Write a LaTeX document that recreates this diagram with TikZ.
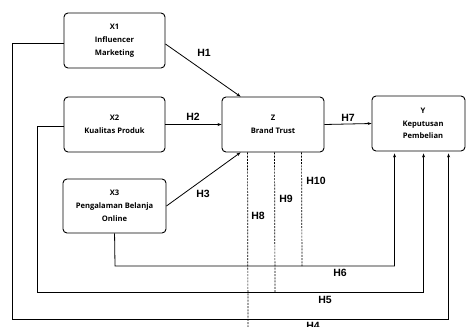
\documentclass[tikz,border=0pt]{standalone}
\usepackage{fontspec}
\setmainfont{Open Sans}
\newfontfamily\labfont{Liberation Sans}
\usetikzlibrary{arrows.meta,calc}
\begin{document}
\begin{tikzpicture}[x=1pt,y=-1pt,
  boxtext/.style={font=\bfseries\fontsize{7.6}{12.8}\selectfont, align=center, inner sep=0pt},
  box/.style={draw, rounded corners=4pt, line width=0.9pt, boxtext},
  conn/.style={line width=0.8pt},
  arr/.style={-{Stealth[length=4pt,width=3pt]}},
  hyp/.style={font=\labfont\bfseries\fontsize{10.5}{12}\selectfont, inner sep=0pt},
  dsh/.style={line width=0.7pt, dash pattern=on 2pt off 1.2pt}]
\useasboundingbox (0,0) rectangle (467,327);
% boxes
\node[box, minimum width=101pt, minimum height=55pt] (X1) at (114.5,40.5) {X1\\Influencer\\Marketing};
\node[box, minimum width=101pt, minimum height=55pt] (X2) at (114.5,124.5) {X2\\Kualitas Produk};
\node[box, minimum width=103pt, minimum height=54pt] (X3) at (114.5,206) {X3\\Pengalaman Belanja\\Online};
\node[box, minimum width=102pt, minimum height=55pt] (Z) at (273,124.5) {Z\\Brand Trust};
\node[box, minimum width=93pt, minimum height=55pt] (Y) at (418.5,123.5) {};
\node[boxtext] (Ytext) at (423,123.5) {Y\\Keputusan\\Pembelian};
% coordinates
\coordinate (ztop) at ($(Z.north west)+(19,0)$);
\coordinate (zbot) at ($(Z.south west)+(19,0)$);
\coordinate (x1o) at ($(X1.east)+(0,3.5)$);
\coordinate (x1w) at ($(X1.west)+(0,2.5)$);
\coordinate (x2w) at ($(X2.west)+(0,1.5)$);
\coordinate (y6) at ($(Y.south west)+(23,2)$);
\coordinate (y5) at ($(Y.south west)+(52,2)$);
\coordinate (y4) at ($(Y.south west)+(77,2)$);
\coordinate (d8) at ($(Z.south west)+(26,0)$);
\coordinate (d9) at ($(Z.south west)+(53,0)$);
\coordinate (d10) at ($(Z.south west)+(80,0)$);
\coordinate (x6) at ($(X3.south west)+(52,0)$);
% direct paths
\draw[conn,arr] (x1o) -- (ztop);
\draw[conn,arr] (X2.east) -- (Z.west);
\draw[conn,arr] (X3.east) -- (zbot);
\draw[conn,arr] (Z.east) -- (Y.west);
% indirect long paths
\draw[conn,arr] (x1w) -- (12,43) -- (12,319) -| (y4);
\draw[conn,arr] (x2w) -- (37,126) -- (37,292) -| (y5);
\draw[conn,arr] (x6) -- (115,266) -| (y6);
% dashed mediation lines
\draw[dsh] (d8) -- (248,330);
\draw[dsh] (d9) -- (275,292);
\draw[dsh] (d10) -- (302,266);
% labels
\node[hyp] (h1) at (204,53) {H1};
\node[hyp] (h2) at (193,117) {H2};
\node[hyp] (h3) at (203,194) {H3};
\node[hyp] (h7) at (348,118) {H7};
\node[hyp] (h8) at (258,216) {H8};
\node[hyp] (h9) at (286,199) {H9};
\node[hyp] (h10) at (316,181) {H10};
\node[hyp] (h6) at (340,273) {H6};
\node[hyp] (h5) at (325,300) {H5};
\node[hyp] (h4) at (313,326) {H4};
\end{tikzpicture}
\end{document}
